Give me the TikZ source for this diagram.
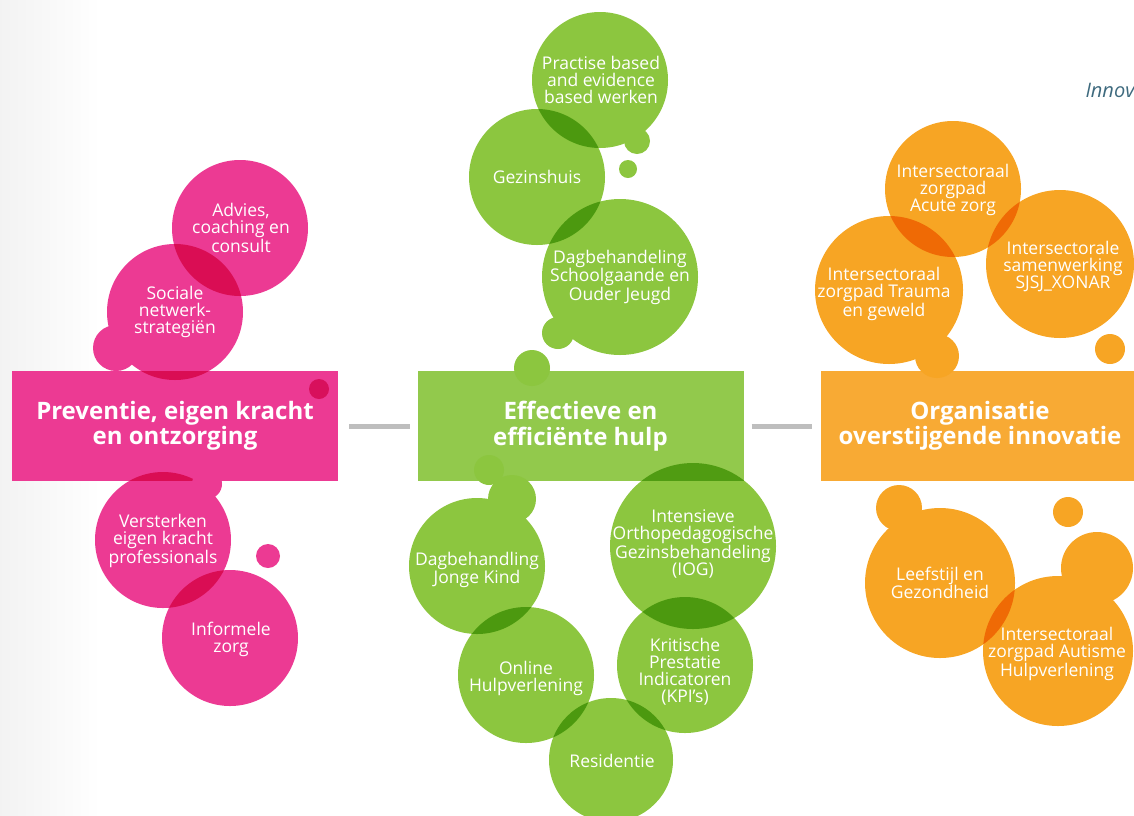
\documentclass[tikz,border=0pt]{standalone}
\usepackage{fontspec}
\setmainfont{Open Sans}
\usepackage{tikz}

\definecolor{roze}{RGB}{236,58,147}
\definecolor{rozedonker}{RGB}{216,16,92}
\definecolor{groen}{RGB}{140,198,63}
\definecolor{groenvlak}{RGB}{146,201,76}
\definecolor{oranje}{RGB}{247,165,36}
\definecolor{oranjevlak}{RGB}{248,170,52}
\definecolor{lijn}{RGB}{190,190,190}
\definecolor{kop}{RGB}{62,106,126}

\tikzset{
  bol/.style={fill=#1, blend mode=multiply},
  tekst/.style={text=white, align=center, font=\fontsize{17.5}{17}\selectfont},
  blok/.style={fill=#1, minimum width=326, minimum height=110, inner sep=0,
    text=white, align=center, font=\bfseries\fontsize{24}{25.5}\selectfont},
  verbinding/.style={draw=lijn, line width=5}
}

\begin{document}
\begin{tikzpicture}[x=1pt,y=-1pt]
    \useasboundingbox (0,0) rectangle (1134,815);
    \clip (0,0) rectangle (1134,815);
    \shade[left color=black!5, right color=white] (0,0) rectangle (100,815);

    \node[blok=roze] (preventie) at (175,426) {Preventie, eigen kracht\\en ontzorging};
    \node[blok=groenvlak] (effectief) at (580.5,426) {Effectieve en\\efficiënte hulp};
    \node[blok=oranjevlak, minimum width=318] (organisatie) at (980,426) {Organisatie\\overstijgende innovatie};

    \draw[verbinding, shorten <=11pt, shorten >=7pt] (preventie) -- (effectief);
    \draw[verbinding, shorten <=8pt, shorten >=9pt] (effectief) -- (organisatie);

    \fill[rozedonker] (319,389) circle (10pt);
    \fill[groen] (532,368) circle (18pt);
    \fill[groen] (489,470) circle (15pt);

    % roze bollen
    \fill[bol=roze] (240,228) circle (68pt);
    \fill[bol=roze] (175,312) circle (68pt);
    \fill[bol=roze] (163,540) circle (68pt);
    \fill[bol=roze] (230,638) circle (68pt);
    \fill[roze] (116,348) circle (23pt);
    \fill[roze] (207,484) circle (15pt);
    \fill[roze] (268,556) circle (12pt);

    % groene bollen
    \fill[bol=groen] (600,80) circle (68pt);
    \fill[bol=groen] (537,177) circle (68pt);
    \fill[bol=groen] (620,277) circle (78pt);
    \fill[bol=groen] (477,566) circle (68pt);
    \fill[bol=groen] (693,546) circle (83pt);
    \fill[bol=groen] (526,675) circle (68pt);
    \fill[bol=groen] (685,665) circle (68pt);
    \fill[bol=groen] (611,760) circle (62pt);
    \fill[groen] (637,141) circle (13pt);
    \fill[groen] (628,169) circle (9pt);
    \fill[groen] (558,333) circle (16pt);
    \fill[groen] (512,499) circle (24pt);

    % oranje bollen
    \fill[bol=oranje] (953,189) circle (68pt);
    \fill[bol=oranje] (889,290) circle (74pt);
    \fill[bol=oranje] (1060,264) circle (74pt);
    \fill[bol=oranje] (940,583) circle (75pt);
    \fill[bol=oranje] (1058,651) circle (75pt);
    \fill[oranje] (937,356) circle (22pt);
    \fill[oranje] (1110,349) circle (15pt);
    \fill[oranje] (899,508) circle (23pt);
    \fill[oranje] (1097,568) circle (36pt);
    \fill[oranje] (1068,512) circle (15pt);

    \node[tekst] (advies) at (241,228) {Advies,\\coaching en\\consult};
    \node[tekst] (sociaal) at (175,312) {Sociale\\netwerk-\\strategiën};
    \node[tekst] (versterken) at (163,541) {Versterken\\eigen kracht\\professionals};
    \node[tekst] (informeel) at (231,639) {Informele\\zorg};

    \node[tekst] (practise) at (601,80) {Practise based\\and evidence\\based werken};
    \node[tekst] (gezinshuis) at (537,177) {Gezinshuis};
    \node[tekst] (dagschool) at (620,277) {Dagbehandeling\\Schoolgaande en\\Ouder Jeugd};
    \node[tekst] (dagjong) at (477,570) {Dagbehandling\\Jonge Kind};
    \node[tekst] (iog) at (693,544) {Intensieve\\Orthopedagogische\\Gezinsbehandeling\\(IOG)};
    \node[tekst] (online) at (526,678) {Online\\Hulpverlening};
    \node[tekst] (kpi) at (685,672) {Kritische\\Prestatie\\Indicatoren\\(KPI’s)};
    \node[tekst] (residentie) at (612,761) {Residentie};

    \node[tekst] (acuut) at (953,190) {Intersectoraal\\zorgpad\\Acute zorg};
    \node[tekst] (trauma) at (884,294) {Intersectoraal\\zorgpad Trauma\\en geweld};
    \node[tekst] (sjsj) at (1063,266) {Intersectorale\\samenwerking\\SJSJ\_XONAR};
    \node[tekst] (leefstijl) at (940,583) {Leefstijl en\\Gezondheid};
    \node[tekst] (autisme) at (1057,654) {Intersectoraal\\zorgpad Autisme\\Hulpverlening};

    \node[anchor=base west, text=kop, font=\itshape\fontsize{20}{22}\selectfont] (innov) at (1082,97) {Innov};
\end{tikzpicture}
\end{document}
